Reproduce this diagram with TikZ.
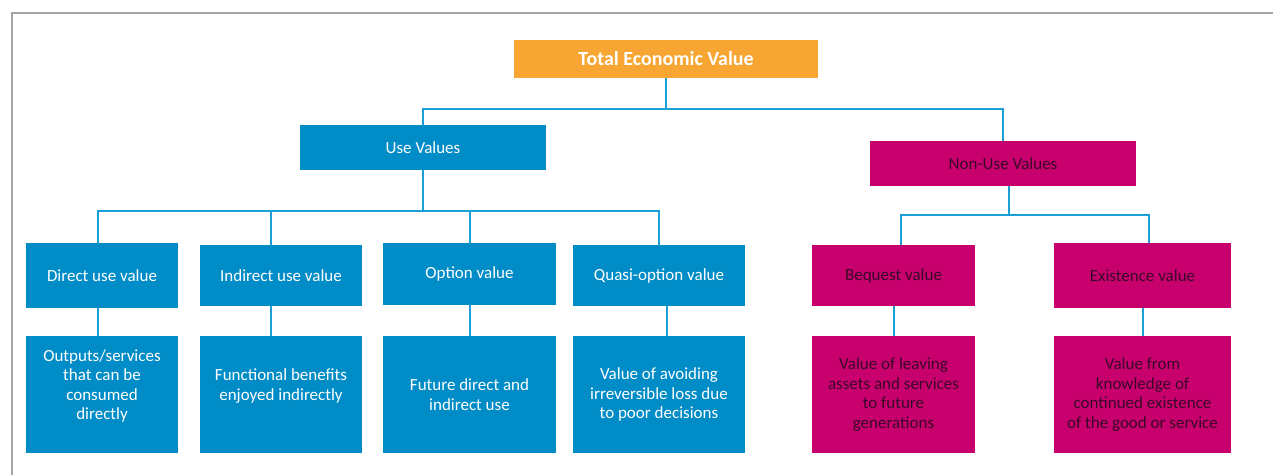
\documentclass[tikz,border=0pt]{standalone}
\usepackage{fontspec}
\setmainfont{Carlito}
\usetikzlibrary{calc}
\definecolor{ublue}{RGB}{0,140,198}
\definecolor{lblue}{RGB}{26,160,214}
\definecolor{orng}{RGB}{248,166,51}
\definecolor{mag}{RGB}{200,0,110}
\definecolor{magtext}{RGB}{58,8,40}
\definecolor{frame}{RGB}{166,166,166}
\begin{document}
\begin{tikzpicture}[x=1pt,y=-1pt,
  box/.style={rectangle, inner sep=2pt, align=center, font=\fontsize{17}{19.5}\selectfont},
  ubox/.style={box, fill=ublue, text=white},
  nbox/.style={box, fill=mag, text=magtext},
  tbox/.style={box, fill=orng, text=white, font=\fontsize{20}{22}\selectfont\bfseries},
  conn/.style={draw=lblue, line width=2pt}]
\useasboundingbox (0,0) rectangle (1273,475);
\draw[frame, line width=2pt] (12,475) -- (12,13) -- (1273,13);

\node[tbox, minimum width=304pt, minimum height=38pt] (tev) at (666,59) {Total Economic Value};
\node[ubox, minimum width=246pt, minimum height=45pt] (uv) at (423,147.5) {Use Values};
\node[nbox, minimum width=266pt, minimum height=45pt] (nuv) at (1003,163.5) {Non-Use Values};

\node[ubox, minimum width=152pt, minimum height=65pt] (d1) at (102,275.5) {Direct use value};
\node[ubox, minimum width=162pt, minimum height=61pt] (i1) at (281,275.5) {Indirect use value};
\node[ubox, minimum width=173pt, minimum height=62pt] (o1) at (469.5,274) {Option value};
\node[ubox, minimum width=172pt, minimum height=61pt] (q1) at (659,275.5) {Quasi-option value};
\node[nbox, minimum width=163pt, minimum height=61pt] (b1) at (893.5,275.5) {Bequest value};
\node[nbox, minimum width=177pt, minimum height=65pt] (e1) at (1142.5,275.5) {Existence value};

\node[ubox, minimum width=152pt, minimum height=117pt] (d2) at (102,394.5) {Outputs/services\\that can be\\consumed\\directly\\\mbox{}};
\node[ubox, minimum width=162pt, minimum height=117pt] (i2) at (281,394.5) {Functional benefits\\enjoyed indirectly\\\mbox{}};
\node[ubox, minimum width=173pt, minimum height=117pt] (o2) at (469.5,394.5) {Future direct and\\indirect use};
\node[ubox, minimum width=172pt, minimum height=117pt] (q2) at (659,394.5) {Value of avoiding\\irreversible loss due\\to poor decisions};
\node[nbox, minimum width=163pt, minimum height=117pt] (b2) at (893.5,394.5) {Value of leaving\\assets and services\\to future\\generations};
\node[nbox, minimum width=177pt, minimum height=117pt] (e2) at (1142.5,394.5) {Value from\\knowledge of\\continued existence\\of the good or service};

% level 1 -> 2
\coordinate (bus0) at ($(tev.south)+(0,31)$);
\draw[conn] (tev.south) -- (bus0) -| (uv.north);
\draw[conn] (bus0) -| (nuv.north);

% use values -> level 3
\coordinate (bus1) at ($(uv.south)+(0,41)$);
\draw[conn] (uv.south) -- (bus1) -| ($(d1.north)+(-4,0)$);
\draw[conn] (bus1) -| ($(i1.north)+(-10,0)$);
\draw[conn] (bus1) -| (o1.north);
\draw[conn] (bus1) -| (q1.north);

% non-use values -> level 3
\coordinate (bus2) at ($(nuv.south)+(6,29)$);
\draw[conn] ($(nuv.south)+(6,0)$) -- (bus2) -| ($(b1.north)+(7.5,0)$);
\draw[conn] (bus2) -| ($(e1.north)+(6.5,0)$);

% level 3 -> 4
\draw[conn] ($(d1.south)+(-4,0)$) -- ($(d2.north)+(-4,0)$);
\draw[conn] ($(i1.south)+(-10,0)$) -- ($(i2.north)+(-10,0)$);
\draw[conn] (o1.south) -- (o2.north);
\draw[conn] ($(q1.south)+(8,0)$) -- ($(q2.north)+(8,0)$);
\draw[conn] (b1.south) -- (b2.north);
\draw[conn] (e1.south) -- (e2.north);
\end{tikzpicture}
\end{document}
